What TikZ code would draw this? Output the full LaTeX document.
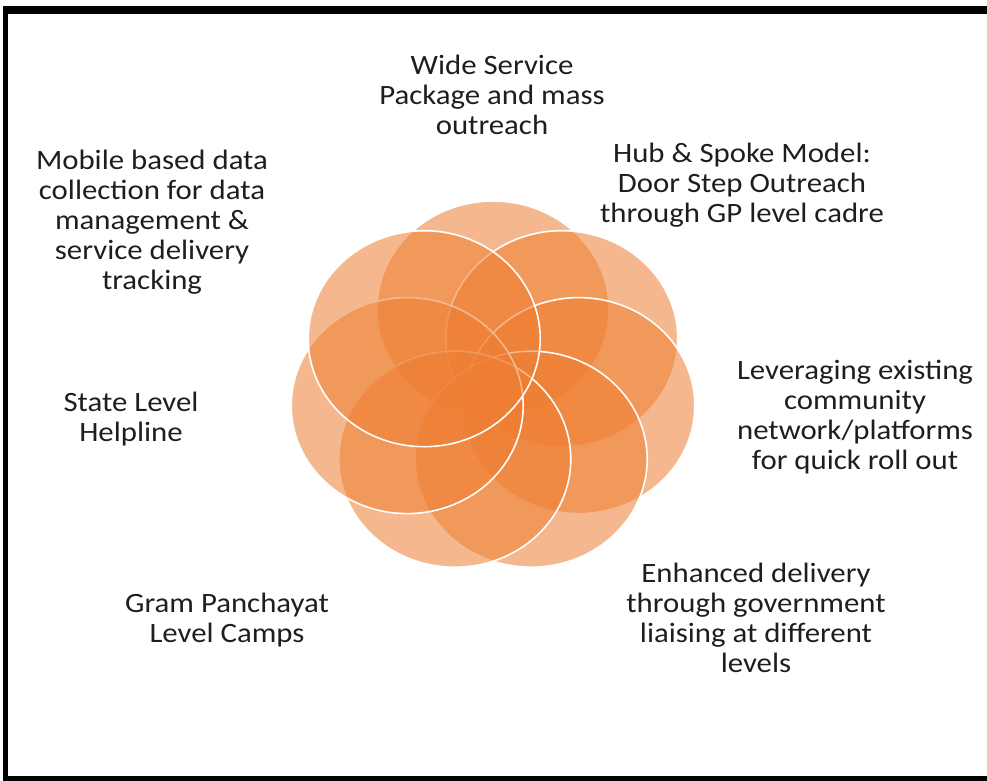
\documentclass[tikz,border=0pt]{standalone}
\usepackage{fontspec}
\setmainfont[FakeStretch=1.1]{Carlito}
\usepackage{tikz}
\definecolor{petalorange}{RGB}{237,125,49}
\definecolor{textgray}{RGB}{30,30,30}

\begin{document}
\begin{tikzpicture}[
    x=1pt, y=-1pt,
    petal/.style={fill=petalorange, fill opacity=0.55, draw=white, line width=1.6pt},
    desc/.style={align=center, inner sep=0pt, text=textgray, font=\fontsize{28}{30}\selectfont},
    frame/.style={fill=black, draw=none}
]
    \useasboundingbox (0,0) rectangle (987,781);

    % Black frame (no right edge)
    \fill[frame] (3,6) rectangle (987,14);
    \fill[frame] (3,6) rectangle (8,781);
    \fill[frame] (3,776) rectangle (987,781);

    % Seven overlapping petals, clockwise from the top
    \draw[petal] (493,309) ellipse [x radius=116pt, y radius=108pt];
    \draw[petal] (561.8,338.7) ellipse [x radius=116pt, y radius=108pt];
    \draw[petal] (578.8,405.6) ellipse [x radius=116pt, y radius=108pt];
    \draw[petal] (531.2,459.2) ellipse [x radius=116pt, y radius=108pt];
    \draw[petal] (454.8,459.2) ellipse [x radius=116pt, y radius=108pt];
    \draw[petal] (407.2,405.6) ellipse [x radius=116pt, y radius=108pt];
    \draw[petal] (424.2,338.7) ellipse [x radius=116pt, y radius=108pt];

    % Labels round the flower
    \node[desc] (wide) at (492,95) {Wide Service\\Package and mass\\outreach};
    \node[desc] (hub) at (742,185) {Hub \& Spoke Model:\\Door Step Outreach\\through GP level cadre};
    \node[desc] (lever) at (855,417) {Leveraging existing\\community\\network/platforms\\for quick roll out};
    \node[desc] (enhanced) at (756,618) {Enhanced delivery\\through government\\liaising at different\\levels};
    \node[desc] (gram) at (227,620) {Gram Panchayat\\Level Camps};
    \node[desc] (state) at (131,419) {State Level\\Helpline};
    \node[desc] (mobile) at (152,222) {Mobile based data\\collection for data\\management \&\\service delivery\\tracking};
\end{tikzpicture}
\end{document}
